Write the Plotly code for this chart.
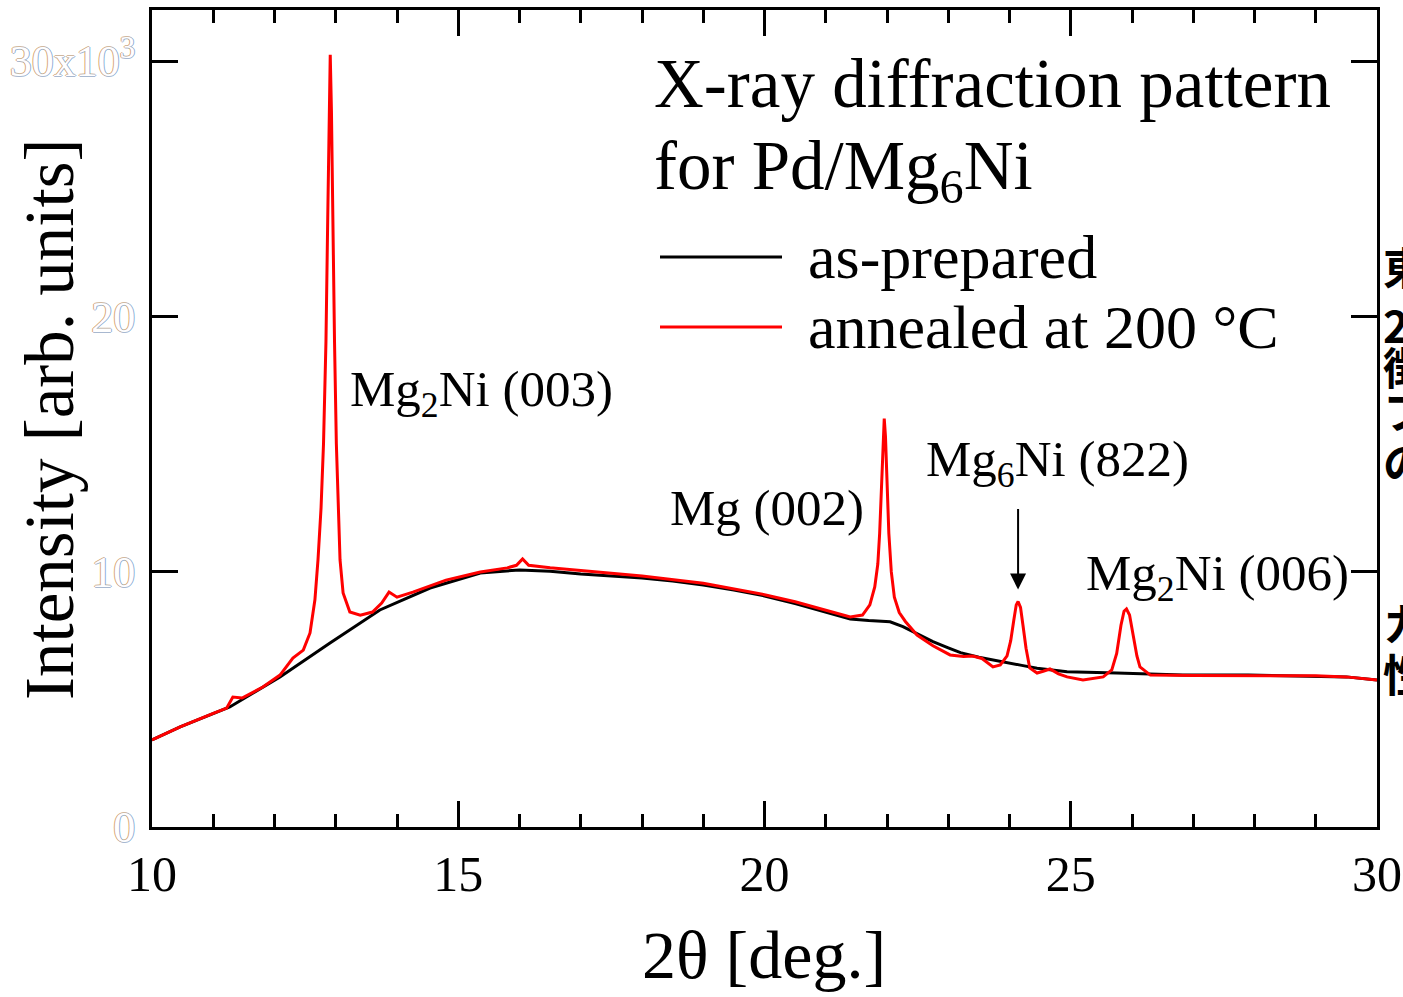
import plotly.graph_objects as go

# ---------------- data ----------------
as_prepared_x = [10.0, 10.46, 11.27, 12.09, 12.9, 13.72, 14.54, 15.36, 16.0, 16.5, 17.0, 17.5,
                 18.0, 18.5, 19.0, 19.5, 20.0, 20.5, 21.0, 21.4, 21.7, 22.05, 22.26, 22.5,
                 22.75, 23.0, 23.2, 23.5, 23.85, 24.2, 24.45, 24.94, 25.75, 26.83, 27.9,
                 29.0, 29.5, 30.0]
as_prepared_y = [3410, 3920, 4700, 5880, 7200, 8500, 9360, 9950, 10070, 10020, 9910, 9830,
                 9750, 9630, 9480, 9280, 9050, 8750, 8420, 8150, 8090, 8040, 7850, 7550,
                 7260, 7020, 6830, 6650, 6480, 6330, 6220, 6080, 6030, 5950, 5950,
                 5910, 5880, 5760]

annealed_x = [10.0, 10.46, 11.0, 11.22, 11.32, 11.47, 11.81, 12.09, 12.3, 12.47, 12.58,
              12.66, 12.71, 12.76, 12.80, 12.84, 12.87, 12.89, 12.91, 12.93, 12.95, 12.98,
              13.01, 13.04, 13.07, 13.12, 13.23, 13.4, 13.6, 13.75, 13.87, 14.0, 14.26,
              14.8, 15.36, 15.8, 15.95, 16.05, 16.15, 16.5, 17.0, 18.0, 19.0, 20.0, 20.5,
              21.0, 21.4, 21.6, 21.72, 21.8, 21.85, 21.88, 21.91, 21.935, 21.955, 21.975,
              22.0, 22.03, 22.07, 22.12, 22.2, 22.3, 22.49, 22.75, 23.03, 23.25, 23.4,
              23.55, 23.73, 23.85, 23.96, 24.02, 24.07, 24.11, 24.14, 24.18, 24.22, 24.27,
              24.33, 24.45, 24.55, 24.66, 24.8, 24.94, 25.2, 25.53, 25.67, 25.75, 25.82,
              25.87, 25.91, 25.96, 26.02, 26.08, 26.13, 26.3, 27.0, 28.0, 29.0, 29.5, 30.0]
annealed_y = [3410, 3920, 4450, 4660, 5090, 5050, 5480, 5950, 6620, 6930, 7600,
              8900, 10460, 12500, 15000, 19000, 24000, 28000, 30250, 28000, 24000, 19000,
              15000, 12500, 10460, 9170, 8420, 8300, 8420, 8770, 9200, 9000, 9200,
              9670, 9990, 10150, 10250, 10500, 10250, 10150, 10050, 9830, 9550, 9100, 8820,
              8500, 8230, 8300, 8700, 9400, 10300, 11500, 13500, 15300, 16000, 15300,
              13500, 11500, 10000, 9000, 8400, 8050, 7520, 7100, 6740, 6680, 6700,
              6600, 6270, 6350, 6700, 7300, 8100, 8700, 8830, 8600, 7900, 7000,
              6230, 6030, 6100, 6190, 6000, 5880, 5760, 5880, 6150, 6800, 7900,
              8450, 8540, 8300, 7500, 6700, 6270, 5950, 5930, 5920, 5920, 5880, 5760]

x_ticks = [10, 15, 20, 25, 30]
y_ticks = [0, 10000, 20000, 30000]
y_ticktext = ["0", "10", "20", "30x10<sup>3</sup>"]
x_title = "2θ [deg.]"
y_title = "Intensity [arb. units]"

peak_labels = [
    ("Mg<sub>2</sub>Ni (003)", 13.2, 17000),
    ("Mg (002)", 18.42, 12500),
    ("Mg<sub>6</sub>Ni (822)", 22.6, 14250),
    ("Mg<sub>2</sub>Ni (006)", 25.21, 9800),
]
arrow_target = (24.14, 9300)

title_lines = ["X-ray diffraction pattern", "for Pd/Mg<sub>6</sub>Ni"]
legend_names = ["as-prepared", "annealed at 200 °C"]
side_chars = [("東", 266), ("2", 324), ("徴", 366), ("フ", 410), ("の", 461), ("カ", 622), ("性", 673)]

# ---------------- figure ----------------
SERIF = "Liberation Serif, Times New Roman, serif"
W, H = 1403, 997
L, R, T, B = 152, 26, 10, 170
PW, PH = W - L - R, H - T - B

def px_to_paper(px, py):
    return (px - L) / PW, (H - B - py) / PH

fig = go.Figure()
fig.add_trace(go.Scatter(x=as_prepared_x, y=as_prepared_y, mode="lines",
                         line=dict(color="black", width=3), name=legend_names[0],
                         showlegend=False))
fig.add_trace(go.Scatter(x=annealed_x, y=annealed_y, mode="lines",
                         line=dict(color="#ff0000", width=3), name=legend_names[1],
                         showlegend=False))

axis_common = dict(showline=True, linecolor="black", linewidth=3, mirror="ticks",
                   ticks="inside", ticklen=26, tickwidth=3, tickcolor="black",
                   showgrid=False, zeroline=False, automargin=False)

fig.update_xaxes(range=[10, 30], tickvals=x_ticks,
                 tickfont=dict(family=SERIF, size=50, color="black"),
                 minor=dict(ticks="inside", ticklen=13, tickwidth=3, tickcolor="black", dtick=1, showgrid=False),
                 ticklabelstandoff=1,
                 **axis_common)
fig.update_yaxes(range=[0, 32000], tickvals=y_ticks, ticktext=y_ticktext,
                 tickfont=dict(family=SERIF, size=44, color="white",
                               shadow="1px 0px 0px #8fb0d8, -1px 0px 0px #d8a878, 0px 1px 0px #a8b8d0, 0px -1px 0px #d0b8a0"),
                 ticklabelstandoff=5,
                 **axis_common)

annotations = []
# axis titles
xp, yp = px_to_paper(764, 955)
annotations.append(dict(text=x_title, xref="paper", yref="paper", x=xp, y=yp,
                        xanchor="center", yanchor="middle", showarrow=False,
                        font=dict(family=SERIF, size=68, color="black")))
xp, yp = px_to_paper(50, 420)
annotations.append(dict(text=y_title, xref="paper", yref="paper", x=xp, y=yp, textangle=-90,
                        xanchor="center", yanchor="middle", showarrow=False,
                        font=dict(family=SERIF, size=69, color="black")))
# title lines
for i, (txt, base_py) in enumerate(zip(title_lines, [110, 201])):
    xp, yp = px_to_paper(652, base_py + 14)
    annotations.append(dict(text=txt, xref="paper", yref="paper", x=xp, y=yp,
                            xanchor="left", yanchor="bottom", showarrow=False,
                            font=dict(family=SERIF, size=69, color="black")))
# legend
shapes = []
for name, color, ly in zip(legend_names, ["black", "#ff0000"], [257, 327]):
    x0, y0 = px_to_paper(660, ly)
    x1, _ = px_to_paper(782, ly)
    shapes.append(dict(type="line", xref="paper", yref="paper", x0=x0, x1=x1, y0=y0, y1=y0,
                       line=dict(color=color, width=3)))
    tx, ty = px_to_paper(806, ly)
    annotations.append(dict(text=name, xref="paper", yref="paper", x=tx, y=ty,
                            xanchor="left", yanchor="middle", showarrow=False,
                            font=dict(family=SERIF, size=62, color="black")))
# peak labels
for txt, lx, ly in peak_labels:
    annotations.append(dict(text=txt, x=lx, y=ly, xanchor="left", yanchor="middle",
                            showarrow=False, font=dict(family=SERIF, size=51, color="black")))
# arrow
annotations.append(dict(text="", x=arrow_target[0], y=arrow_target[1], ax=0, ay=-82,
                        showarrow=True, arrowhead=2, arrowsize=1.6, arrowwidth=2,
                        arrowcolor="black"))
# clipped side text
for ch, cy in side_chars:
    xp, yp = px_to_paper(1381, cy)
    annotations.append(dict(text="<b>" + ch + "</b>", xref="paper", yref="paper", x=xp, y=yp,
                            xanchor="left", yanchor="middle", showarrow=False,
                            font=dict(family="Noto Sans CJK JP", size=44, color="black")))

fig.update_layout(width=W, height=H, margin=dict(l=L, r=R, t=T, b=B),
                  paper_bgcolor="white", plot_bgcolor="white",
                  annotations=annotations, shapes=shapes, showlegend=False)

fig.write_html("out.html", config={"displayModeBar": False})
